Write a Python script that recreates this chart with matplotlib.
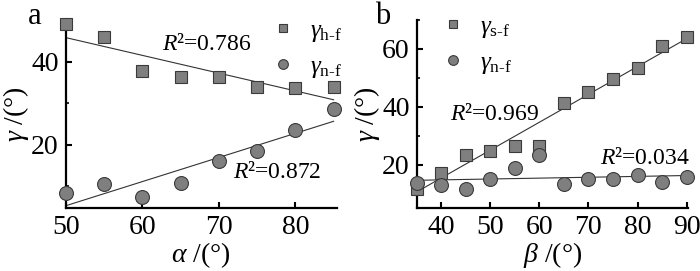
import numpy as np
import matplotlib
matplotlib.use("Agg")
import matplotlib.pyplot as plt

plt.rcParams["font.family"] = ["Liberation Serif", "DejaVu Serif"]
plt.rcParams["mathtext.fontset"] = "custom"
plt.rcParams["mathtext.rm"] = "Liberation Serif"
plt.rcParams["mathtext.it"] = "Liberation Serif:italic"

# ─── Data ────────────────────────────────────────────────────────────
alpha = [50, 55, 60, 65, 70, 75, 80, 85]
gamma_hf = [49.0, 46.0, 37.7, 36.2, 36.3, 33.8, 33.6, 33.9]
gamma_nf_a = [8.4, 10.7, 7.5, 10.9, 16.1, 18.5, 23.5, 28.6]

beta = [35, 40, 45, 50, 55, 60, 65, 70, 75, 80, 85, 90]
gamma_sf = [11.7, 17.1, 23.4, 24.9, 26.3, 26.5, 41.5, 45.1, 49.8, 53.4, 61.0, 64.2]
gamma_nf_b = [13.8, 12.9, 11.5, 15.2, 18.9, 23.5, 13.4, 14.9, 14.9, 16.6, 13.9, 15.8]

r2_a = ["0.786", "0.872"]
r2_b = ["0.969", "0.034"]

FILL = "#7f7f7f"
EDGE = "#3a3a3a"
LINE = "#333333"
FS = 20


def style(ax, xlim, ylim, xticks, yticks, yminor):
    ax.set_xlim(*xlim)
    ax.set_ylim(*ylim)
    ax.set_xticks(xticks)
    ax.set_yticks(yticks)
    ax.set_yticks(yminor, minor=True)
    for s in ("top", "right"):
        ax.spines[s].set_visible(False)
    for s in ("left", "bottom"):
        ax.spines[s].set_linewidth(1.6)
    ax.tick_params(direction="in", length=4, width=1.5, labelsize=FS, pad=5)
    ax.tick_params(which="minor", direction="in", length=2.5, width=1.2)


def fit_line(ax, x, y):
    k, b = np.polyfit(x, y, 1)
    xs = np.array([min(x), max(x)])
    ax.plot(xs, k * xs + b, color=LINE, lw=0.8, zorder=2)


def scatter_pair(ax, x, y_sq, y_ci, lab_sq, lab_ci):
    ax.plot(x, y_sq, "s", ms=8, mfc=FILL, mec=EDGE, mew=0.8, ls="none",
            label=lab_sq, zorder=3, clip_on=False)
    ax.plot(x, y_ci, "o", ms=10, mfc=FILL, mec=EDGE, mew=0.8, ls="none",
            label=lab_ci, zorder=3, clip_on=False)


def r2_label(x_px, y_px, value):
    fig.text(x_px / 700, 1 - y_px / 271, r"$R$²=" + value, fontsize=17, va="center")


def legend(ax, anchor):
    ax.legend(loc="upper left", bbox_to_anchor=anchor, frameon=False,
              fontsize=18, markerscale=0.7, handlelength=1.0, handletextpad=0.6,
              labelspacing=0.45, borderpad=0, borderaxespad=0)


fig = plt.figure(figsize=(7.0, 2.71), dpi=100)
ax1 = fig.add_axes([0.094, 0.232, 0.387, 0.694])
ax2 = fig.add_axes([0.595, 0.232, 0.388, 0.694])

# ── panel a ──
fit_line(ax1, alpha, gamma_hf)
fit_line(ax1, alpha, gamma_nf_a)
scatter_pair(ax1, alpha, gamma_hf, gamma_nf_a,
             r"$\gamma_{\rm h\text{-}f}$", r"$\gamma_{\rm n\text{-}f}$")
style(ax1, (50, 85.4), (4.8, 50), [50, 60, 70, 80], [20, 40], [10, 30, 50])
ax1.set_xlabel(r"$\alpha$ /(°)", fontsize=FS, labelpad=0)
ax1.set_ylabel(r"$\gamma$ /(°)", fontsize=FS, labelpad=0)
r2_label(162, 45, r2_a[0])
r2_label(233, 173, r2_a[1])
legend(ax1, (0.755, 1.003))
fig.text(35 / 700, 1 - 17 / 271, "a", fontsize=22, ha="center", va="center")

# ── panel b ──
fit_line(ax2, beta, gamma_sf)
fit_line(ax2, beta, gamma_nf_b)
scatter_pair(ax2, beta, gamma_sf, gamma_nf_b,
             r"$\gamma_{\rm s\text{-}f}$", r"$\gamma_{\rm n\text{-}f}$")
style(ax2, (35, 90.3), (5, 70), [40, 50, 60, 70, 80, 90], [20, 40, 60], [10, 30, 50, 70])
ax2.set_xlabel(r"$\beta$ /(°)", fontsize=FS, labelpad=0)
ax2.set_ylabel(r"$\gamma$ /(°)", fontsize=FS, labelpad=0)
r2_label(450, 115, r2_b[0])
r2_label(600, 158, r2_b[1])
legend(ax2, (0.088, 1.023))
fig.text(383 / 700, 1 - 17 / 271, "b", fontsize=22, ha="center", va="center")

fig.savefig("out.png", dpi=100)
